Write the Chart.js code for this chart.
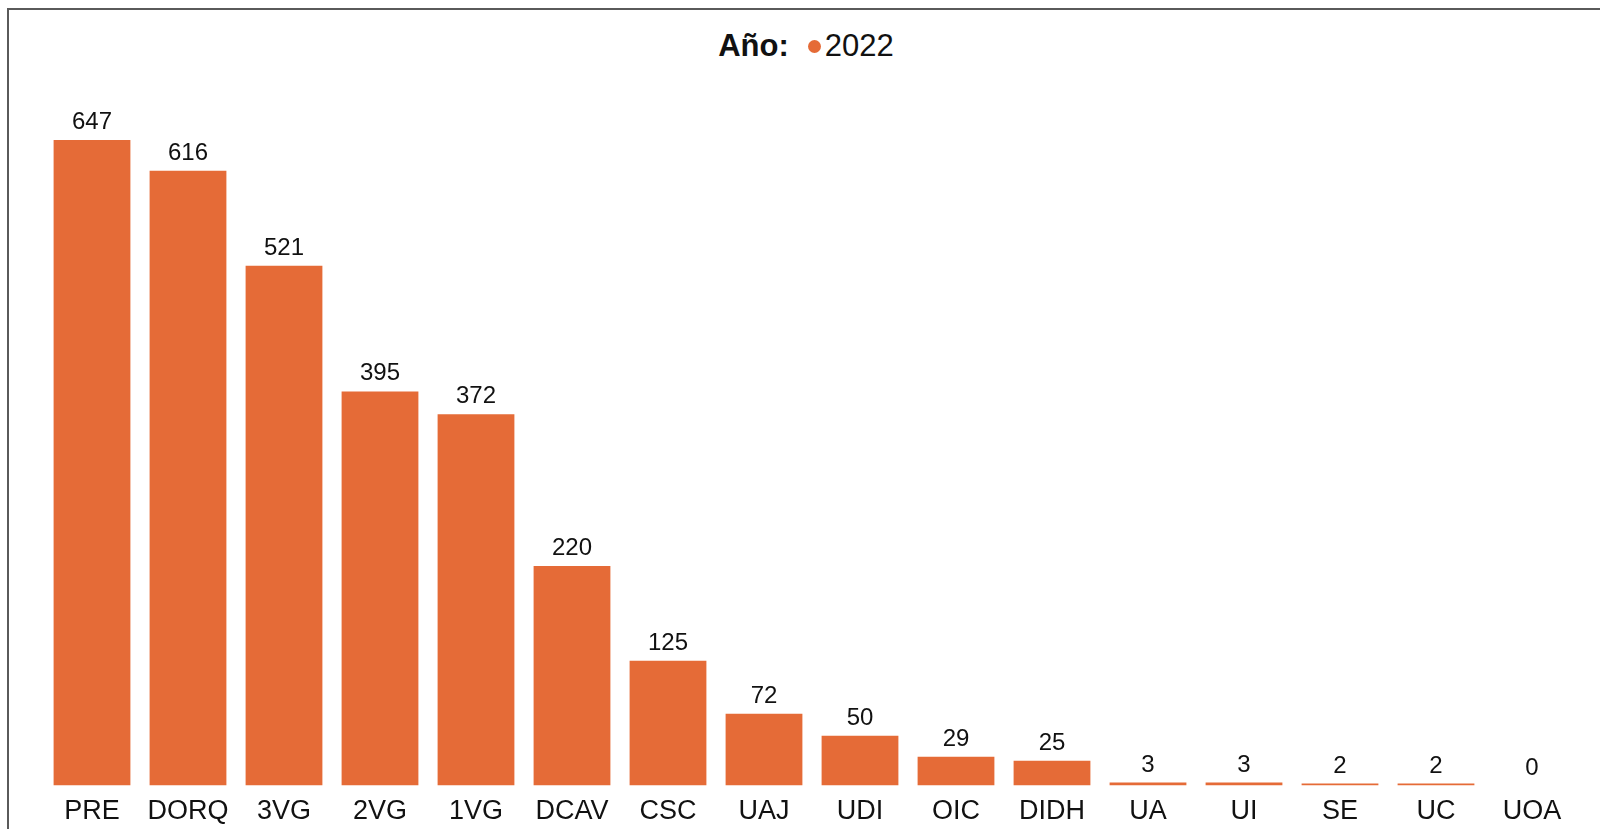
<!DOCTYPE html>
<html>
<head>
<meta charset="utf-8">
<script src="https://cdn.jsdelivr.net/npm/chart.js@4/dist/chart.umd.min.js"></script>
<style>
  html, body { margin: 0; padding: 0; background: #fff; }
  body { width: 1600px; height: 829px; position: relative; overflow: hidden; font-family: "Liberation Sans", Arial, sans-serif; }
  #frame { position: absolute; left: 7px; top: 8px; width: 1700px; height: 900px; border-left: 2px solid #5a5a5a; border-top: 2px solid #5a5a5a; }
  #legend { position: absolute; top: 28px; left: 6px; width: 1600px; text-align: center; font-size: 31px; color: #111; line-height: 36px; }
  #legend b { margin-right: 19px; }
  #legend .dot { display: inline-block; width: 13px; height: 13px; border-radius: 50%; background: #e56b37; margin-right: 4px; vertical-align: 3px; }
  #wrap { position: absolute; left: 0; top: 0; width: 1600px; height: 841px; }
</style>
</head>
<body>
<div id="frame"></div>
<div id="legend"><b>Año:</b><span class="dot"></span>2022</div>
<div id="wrap"><canvas id="barChart"></canvas></div>
<script>
const categorias = ['PRE', 'DORQ', '3VG', '2VG', '1VG', 'DCAV', 'CSC', 'UAJ', 'UDI', 'OIC', 'DIDH', 'UA', 'UI', 'SE', 'UC', 'UOA'];
const valores2022 = [647, 616, 521, 395, 372, 220, 125, 72, 50, 29, 25, 3, 3, 2, 2, 0];
const serieNombre = '2022';
const colorSerie = '#e56b37';

// etiquetas de valor encima de cada barra
const valueLabels = {
    id: 'valueLabels',
    afterDatasetsDraw(chart) {
        const ctx = chart.ctx;
        const meta = chart.getDatasetMeta(0);
        ctx.save();
        ctx.font = '24px "Liberation Sans", Arial, sans-serif';
        ctx.fillStyle = '#111';
        ctx.textAlign = 'center';
        ctx.textBaseline = 'alphabetic';
        meta.data.forEach((bar, i) => {
            ctx.fillText(String(valores2022[i]), bar.x, bar.y - 11);
        });
        ctx.restore();
    }
};

const ctx = document.getElementById('barChart').getContext('2d');
new Chart(ctx, {
    type: 'bar',
    data: {
        labels: categorias,
        datasets: [{
            label: serieNombre,
            data: valores2022,
            backgroundColor: colorSerie,
            barPercentage: 0.8,
            categoryPercentage: 1.0
        }]
    },
    options: {
        responsive: true,
        maintainAspectRatio: false,
        animation: false,
        layout: { padding: { left: 44, right: 20, top: 87, bottom: 3 } },
        plugins: { legend: { display: false }, tooltip: { enabled: false } },
        scales: {
            y: { display: false, min: 0, max: 700 },
            x: {
                grid: { display: false, drawTicks: false },
                border: { display: false },
                ticks: {
                    color: '#111',
                    padding: 10,
                    maxRotation: 0,
                    autoSkip: false,
                    font: { family: '"Liberation Sans", Arial, sans-serif', size: 27 }
                }
            }
        }
    },
    plugins: [valueLabels]
});
</script>
</body>
</html>
